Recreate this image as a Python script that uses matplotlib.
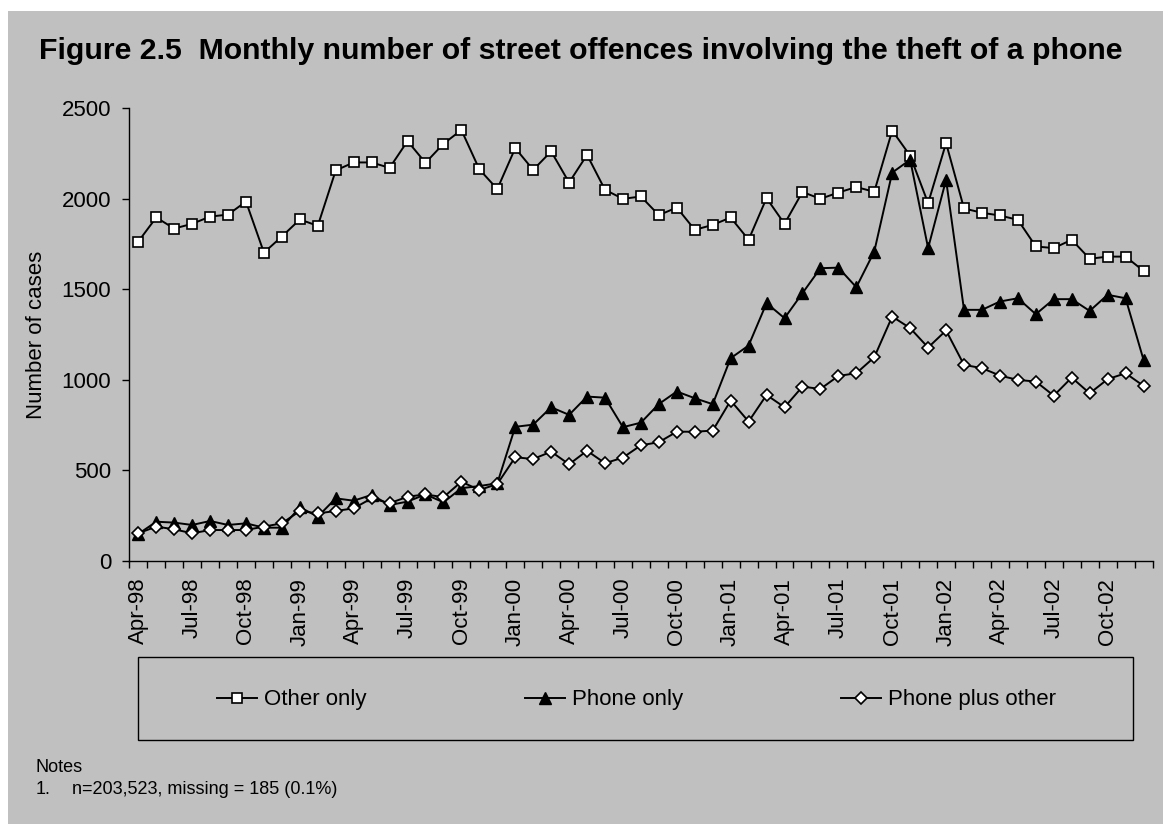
import matplotlib
matplotlib.use("Agg")
import matplotlib.pyplot as plt
from matplotlib.patches import Rectangle

plt.rcParams['font.family'] = ['Liberation Sans', 'DejaVu Sans']

months = [
    "Apr-98", "May-98", "Jun-98", "Jul-98", "Aug-98", "Sep-98", "Oct-98", "Nov-98", "Dec-98",
    "Jan-99", "Feb-99", "Mar-99", "Apr-99", "May-99", "Jun-99", "Jul-99", "Aug-99", "Sep-99",
    "Oct-99", "Nov-99", "Dec-99",
    "Jan-00", "Feb-00", "Mar-00", "Apr-00", "May-00", "Jun-00", "Jul-00", "Aug-00", "Sep-00",
    "Oct-00", "Nov-00", "Dec-00",
    "Jan-01", "Feb-01", "Mar-01", "Apr-01", "May-01", "Jun-01", "Jul-01", "Aug-01", "Sep-01",
    "Oct-01", "Nov-01", "Dec-01",
    "Jan-02", "Feb-02", "Mar-02", "Apr-02", "May-02", "Jun-02", "Jul-02", "Aug-02", "Sep-02",
    "Oct-02", "Nov-02", "Dec-02",
]

other_only = [
    1764, 1897, 1836, 1862, 1902, 1913, 1985, 1703, 1792,
    1886, 1851, 2157, 2201, 2201, 2171, 2319, 2199, 2304, 2380, 2163, 2054,
    2280, 2160, 2262, 2090, 2243, 2050, 2000, 2013, 1910, 1952, 1829, 1856,
    1897, 1774, 2004, 1862, 2038, 2000, 2035, 2065, 2039, 2377, 2238, 1976,
    2308, 1947, 1923, 1908, 1884, 1737, 1728, 1774, 1669, 1681, 1681, 1602,
]

phone_only = [
    149, 217, 212, 199, 221, 199, 208, 184, 184,
    297, 245, 346, 333, 365, 309, 328, 368, 324, 402, 414, 429,
    741, 753, 849, 807, 908, 902, 739, 764, 867, 936, 899, 866,
    1120, 1190, 1424, 1341, 1479, 1617, 1620, 1512, 1709, 2145, 2216, 1728,
    2105, 1387, 1387, 1433, 1451, 1363, 1446, 1446, 1381, 1470, 1451, 1111,
]

phone_plus_other = [
    153, 190, 175, 153, 171, 171, 171, 190, 208,
    276, 263, 276, 291, 346, 319, 355, 368, 352, 438, 392, 425,
    573, 563, 604, 534, 609, 540, 571, 639, 656, 714, 714, 720,
    886, 770, 917, 849, 963, 950, 1022, 1037, 1125, 1350, 1286, 1179,
    1273, 1083, 1065, 1024, 1000, 991, 913, 1013, 926, 1004, 1037, 967,
]

tick_labels = ["Apr-98", "Jul-98", "Oct-98", "Jan-99", "Apr-99", "Jul-99", "Oct-99",
               "Jan-00", "Apr-00", "Jul-00", "Oct-00", "Jan-01", "Apr-01", "Jul-01",
               "Oct-01", "Jan-02", "Apr-02", "Jul-02", "Oct-02"]
y_ticks = [0, 500, 1000, 1500, 2000, 2500]

series_names = ["Other only", "Phone only", "Phone plus other"]

W, H = 1163, 825
fig = plt.figure(figsize=(W / 100, H / 100), dpi=100, facecolor="white")

gray = "#C0C0C0"
fig.patches.append(Rectangle((8 / W, 1 / H), 1 - 8 / W, (H - 11 - 1) / H,
                             transform=fig.transFigure, facecolor=gray,
                             edgecolor="none", zorder=-10))

ax_left, ax_right = 129.3, 1152.5
ax_top, ax_bot = 108.3, 561.0
ax = fig.add_axes([ax_left / W, 1 - ax_bot / H, (ax_right - ax_left) / W, (ax_bot - ax_top) / H])
ax.set_facecolor(gray)

x = list(range(len(months)))
lw = 1.4
l1, = ax.plot(x, other_only, color="black", lw=lw, marker="s", ms=7.5,
              mfc="white", mec="black", mew=1.2, label=series_names[0], clip_on=False)
l2, = ax.plot(x, phone_only, color="black", lw=lw, marker="^", ms=9,
              mfc="black", mec="black", mew=1.0, label=series_names[1], clip_on=False)
l3, = ax.plot(x, phone_plus_other, color="black", lw=lw, marker="D", ms=6,
              mfc="white", mec="black", mew=1.2, label=series_names[2], clip_on=False)

ax.set_xlim(-0.5, len(months) - 0.5)
ax.set_ylim(0, 2500)
ax.set_yticks(y_ticks)
ax.set_yticklabels([str(v) for v in y_ticks])

major_pos = [months.index(m) for m in tick_labels]
ax.set_xticks(major_pos)
ax.set_xticklabels(tick_labels, rotation=90, va="top", ha="center")
ax.set_xticks([i - 0.5 for i in range(len(months) + 1)], minor=True)
ax.tick_params(axis="x", which="major", length=0, pad=12, labelsize=16)
ax.tick_params(axis="x", which="minor", length=5, width=1, direction="out")
ax.tick_params(axis="y", length=5, width=1, direction="out", pad=8, labelsize=16)

for s in ["top", "right"]:
    ax.spines[s].set_visible(False)
for s in ["left", "bottom"]:
    ax.spines[s].set_linewidth(1.0)
    ax.spines[s].set_color("black")

fig.text(36.7 / W, 1 - 335 / H, "Number of cases", rotation=90, ha="center",
         va="center", fontsize=16)

fig.text(581 / W, 1 - 51 / H,
         "Figure 2.5  Monthly number of street offences involving the theft of a phone",
         ha="center", va="center", fontsize=21.8, fontweight="bold")

# legend frame
lx0, lx1, ly0, ly1 = 138.3, 1133, 657.3, 740
fig.patches.append(Rectangle((lx0 / W, 1 - ly1 / H), (lx1 - lx0) / W, (ly1 - ly0) / H,
                             transform=fig.transFigure, facecolor="none",
                             edgecolor="black", lw=1.0, zorder=1))
leg_x0, leg_x1, leg_yc = 217, 1056, 700
leg = fig.legend(handles=[l1, l2, l3], labels=series_names, ncol=3, mode="expand",
                 loc="center", bbox_to_anchor=(leg_x0 / W, 1 - leg_yc / H - 0.02,
                                               (leg_x1 - leg_x0) / W, 0.04),
                 bbox_transform=fig.transFigure, frameon=False, fontsize=16,
                 handlelength=1.8, handletextpad=0.3, borderpad=0, borderaxespad=0)

fig.text(35.7 / W, 1 - 767 / H, "Notes", ha="left", va="center", fontsize=13)
fig.text(35.7 / W, 1 - 789 / H, "1.", ha="left", va="center", fontsize=13)
fig.text(71.7 / W, 1 - 789 / H, "n=203,523, missing = 185 (0.1%)", ha="left",
         va="center", fontsize=13)

fig.savefig("out.png", dpi=100, facecolor="white")
